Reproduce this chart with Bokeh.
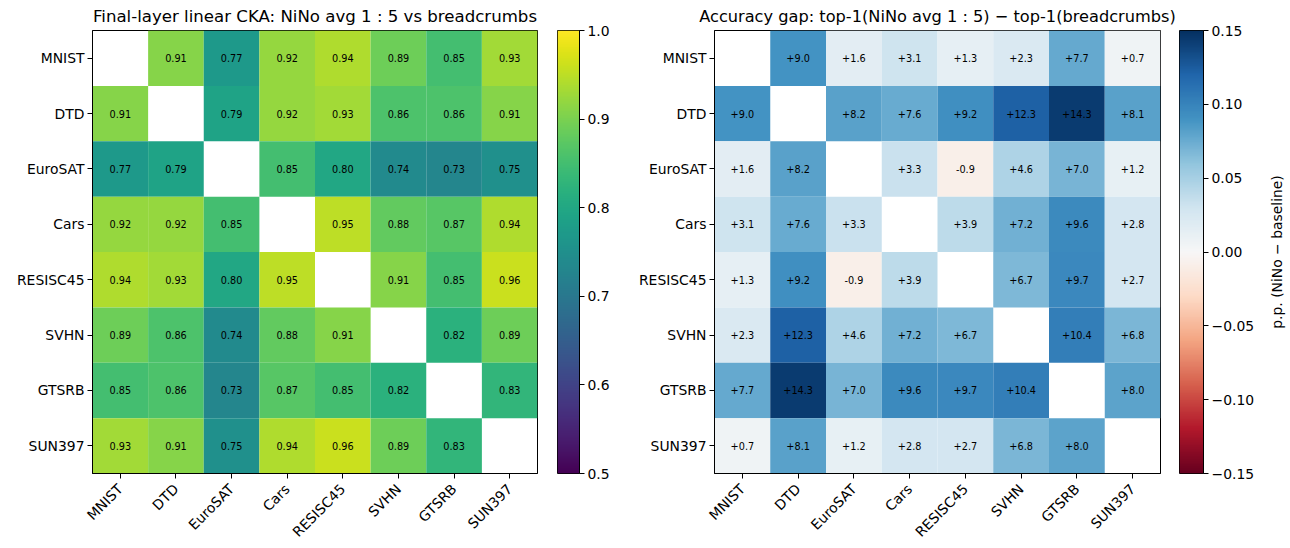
import numpy as np
from bokeh.plotting import figure
from bokeh.layouts import row
from bokeh.models import (ColumnDataSource, FactorRange, Range1d, LinearColorMapper,
                          FixedTicker, CustomJSTickFormatter)
from bokeh.palettes import Viridis256
from bokeh.core.properties import value
from bokeh.embed import file_html
from bokeh.resources import INLINE

FONT = "DejaVu Sans"
TICK_SIZE = "13.9px"

tasks = ["MNIST", "DTD", "EuroSAT", "Cars", "RESISC45", "SVHN", "GTSRB", "SUN397"]

# final-layer linear CKA, rows/cols follow `tasks` (diagonal left empty)
cka = [
    [None, 0.91, 0.77, 0.92, 0.94, 0.89, 0.85, 0.93],
    [0.91, None, 0.79, 0.92, 0.93, 0.86, 0.86, 0.91],
    [0.77, 0.79, None, 0.85, 0.80, 0.74, 0.73, 0.75],
    [0.92, 0.92, 0.85, None, 0.95, 0.88, 0.87, 0.94],
    [0.94, 0.93, 0.80, 0.95, None, 0.91, 0.85, 0.96],
    [0.89, 0.86, 0.74, 0.88, 0.91, None, 0.82, 0.89],
    [0.85, 0.86, 0.73, 0.87, 0.85, 0.82, None, 0.83],
    [0.93, 0.91, 0.75, 0.94, 0.96, 0.89, 0.83, None],
]

# top-1 accuracy gap in percentage points (NiNo avg 1:5 minus breadcrumbs)
gap_pp = [
    [None, 9.0, 1.6, 3.1, 1.3, 2.3, 7.7, 0.7],
    [9.0, None, 8.2, 7.6, 9.2, 12.3, 14.3, 8.1],
    [1.6, 8.2, None, 3.3, -0.9, 4.6, 7.0, 1.2],
    [3.1, 7.6, 3.3, None, 3.9, 7.2, 9.6, 2.8],
    [1.3, 9.2, -0.9, 3.9, None, 6.7, 9.7, 2.7],
    [2.3, 12.3, 4.6, 7.2, 6.7, None, 10.4, 6.8],
    [7.7, 14.3, 7.0, 9.6, 9.7, 10.4, None, 8.0],
    [0.7, 8.1, 1.2, 2.8, 2.7, 6.8, 8.0, None],
]

cka_ticks = [0.5, 0.6, 0.7, 0.8, 0.9, 1.0]
gap_ticks = [-0.15, -0.10, -0.05, 0.0, 0.05, 0.10, 0.15]

# matplotlib-style RdBu built from the ColorBrewer anchors
rdbu_anchors = ["#67001f", "#b2182b", "#d6604d", "#f4a582", "#fddbc7", "#f7f7f7",
                "#d1e5f0", "#92c5de", "#4393c3", "#2166ac", "#053061"]


def interp_palette(anchors, n=256):
    rgb = np.array([[int(h[i:i + 2], 16) for i in (1, 3, 5)] for h in anchors], float)
    pos = np.linspace(0, 1, len(anchors))
    t = np.linspace(0, 1, n)
    out = []
    for k in range(n):
        c = [np.interp(t[k], pos, rgb[:, ch]) for ch in range(3)]
        out.append("#%02x%02x%02x" % tuple(int(round(v)) for v in c))
    return out


RdBu256 = interp_palette(rdbu_anchors)

cka_mapper = LinearColorMapper(palette=Viridis256, low=0.5, high=1.0)
gap_mapper = LinearColorMapper(palette=RdBu256, low=-0.15, high=0.15)


def cells(matrix, scale, fmt):
    xs, ys, vals, labels = [], [], [], []
    for i, r in enumerate(tasks):
        for j, c in enumerate(tasks):
            v = matrix[i][j]
            if v is None:
                continue
            xs.append(c)
            ys.append(r)
            vals.append(v * scale)
            labels.append(fmt(v))
    return ColumnDataSource(dict(x=xs, y=ys, v=vals, label=labels))


def style_axes(p, title_size):
    for ax in (p.xaxis[0], p.yaxis[0]):
        ax.axis_line_color = "black"
        ax.major_tick_line_color = "black"
        ax.major_tick_out = 5
        ax.major_tick_in = 0
        ax.minor_tick_line_color = None
        ax.major_label_text_font = FONT
        ax.major_label_text_font_size = TICK_SIZE
        ax.major_label_text_color = "black"
        ax.major_label_standoff = 3
    p.xaxis.major_label_orientation = np.pi / 4
    p.xaxis.major_label_standoff = 8
    p.grid.visible = False
    p.outline_line_color = "black"
    p.outline_line_width = 1
    p.title.text_font = FONT
    p.title.text_font_style = "normal"
    p.title.text_font_size = title_size
    p.title.align = "center"
    p.title.text_color = "black"
    p.title.standoff = 9


def heatmap(title, src, mapper, width, left, right, title_size):
    p = figure(width=width, height=548, x_range=FactorRange(*tasks),
               y_range=FactorRange(*reversed(tasks)), title=title,
               output_backend="svg", toolbar_location=None,
               min_border_left=left, min_border_right=right,
               min_border_top=29, min_border_bottom=74)
    p.rect(x="x", y="y", width=1, height=1, source=src,
           fill_color={"field": "v", "transform": mapper}, line_color=None)
    p.text(x="x", y="y", text="label", source=src, text_align="center",
           text_baseline="middle", text_font=value(FONT), text_font_size="9.7px",
           text_color="black")
    style_axes(p, title_size)
    return p


def colorbar(mapper, lo, hi, ticks, width, bar_w, formatter):
    p = figure(width=width, height=548, x_range=Range1d(0, 1), y_range=Range1d(lo, hi),
               output_backend="svg", toolbar_location=None,
               x_axis_location=None, y_axis_location="right",
               min_border_left=0, min_border_right=width - bar_w,
               min_border_top=29, min_border_bottom=74)
    ramp = np.linspace(lo, hi, 256).reshape(-1, 1)
    p.image(image=[ramp], x=0, y=lo, dw=1, dh=hi - lo, color_mapper=mapper)
    ax = p.yaxis[0]
    ax.ticker = FixedTicker(ticks=ticks)
    ax.formatter = formatter
    ax.axis_line_color = "black"
    ax.major_tick_line_color = "black"
    ax.major_tick_out = 5
    ax.major_tick_in = 0
    ax.minor_tick_line_color = None
    ax.major_label_text_font = FONT
    ax.major_label_text_font_size = TICK_SIZE
    ax.major_label_text_color = "black"
    ax.major_label_standoff = 3
    p.grid.visible = False
    p.outline_line_color = "black"
    return p


def caption_strip(text, width):
    # a frameless strip whose left axis carries only the colorbar caption
    p = figure(width=width, height=548, x_range=Range1d(0, 1), y_range=Range1d(0, 1),
               output_backend="svg", toolbar_location=None,
               x_axis_location=None, y_axis_location="left",
               min_border_left=width - 1, min_border_right=0,
               min_border_top=29, min_border_bottom=74)
    ax = p.yaxis[0]
    ax.ticker = FixedTicker(ticks=[])
    ax.axis_line_color = None
    ax.major_tick_line_color = None
    ax.minor_tick_line_color = None
    ax.axis_label = text
    ax.axis_label_text_font = FONT
    ax.axis_label_text_font_style = "normal"
    ax.axis_label_text_font_size = TICK_SIZE
    ax.axis_label_text_color = "black"
    ax.axis_label_standoff = 5
    p.grid.visible = False
    p.outline_line_color = None
    return p


cka_src = cells(cka, 1.0, lambda v: f"{v:.2f}")
gap_src = cells(gap_pp, 0.01, lambda v: f"{v:+.1f}")

p1 = heatmap("Final-layer linear CKA: NiNo avg 1 : 5 vs breadcrumbs",
             cka_src, cka_mapper, 557, 92, 20, "16.6px")
c1 = colorbar(cka_mapper, 0.5, 1.0, cka_ticks, 60, 22,
              CustomJSTickFormatter(code="return tick.toFixed(1);"))
p2 = heatmap("Accuracy gap: top-1(NiNo avg 1 : 5) \u2212 top-1(breadcrumbs)",
             gap_src, gap_mapper, 562, 97, 19, "16.2px")
c2 = colorbar(gap_mapper, -0.15, 0.15, gap_ticks, 83, 24,
              CustomJSTickFormatter(code="const a = Math.abs(tick) < 1e-9 ? 0 : tick;"
                                         "return (a < 0 ? '\\u2212' : '') + Math.abs(a).toFixed(2);"))
c3 = caption_strip("p.p. (NiNo \u2212 baseline)", 28)

layout = row(p1, c1, p2, c2, c3)
open("out.html", "w").write(file_html(layout, INLINE))
